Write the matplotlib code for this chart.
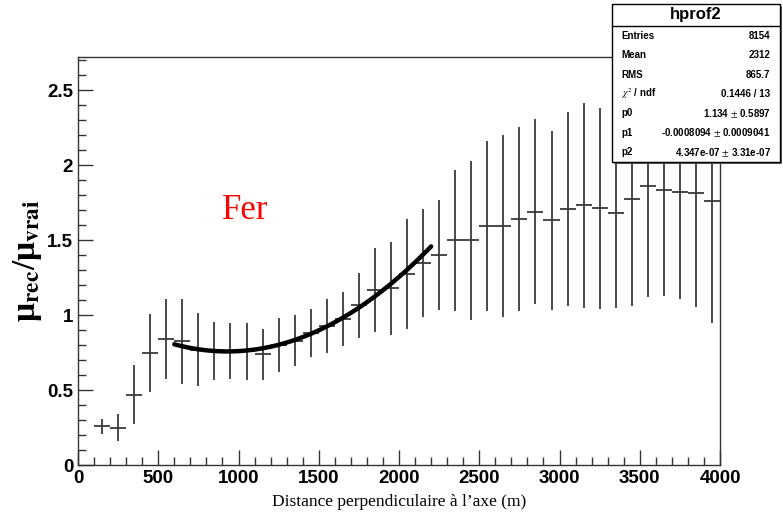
import numpy as np
import matplotlib
matplotlib.use("Agg")
import matplotlib.pyplot as plt
from matplotlib.patches import Rectangle
from matplotlib.ticker import MultipleLocator

# profile histogram hprof2 : bins of 100 m
x = np.arange(150, 4000, 100)
y = [0.26, 0.25, 0.47, 0.75, 0.84, 0.825, 0.77, 0.76, 0.76, 0.76,
     0.74, 0.80, 0.83, 0.88, 0.93, 0.975, 1.065, 1.17, 1.18, 1.275,
     1.35, 1.40, 1.50, 1.50, 1.593, 1.593, 1.638, 1.69, 1.631, 1.709,
     1.731, 1.711, 1.68, 1.773, 1.862, 1.833, 1.82, 1.811, 1.762]
yerr = [0.05, 0.09, 0.195, 0.26, 0.265, 0.285, 0.245, 0.195, 0.185, 0.19,
        0.17, 0.177, 0.17, 0.16, 0.18, 0.18, 0.217, 0.28, 0.31, 0.365,
        0.36, 0.367, 0.47, 0.53, 0.565, 0.605, 0.614, 0.617, 0.597, 0.647,
        0.685, 0.67, 0.635, 0.713, 0.744, 0.706, 0.711, 0.756, 0.813]

# fit pol2 from the stat box
p0, p1, p2 = 1.134, -0.0008094, 4.347e-07
fit_range = (600, 2200)

stats = [("Entries", "8154"), ("Mean", "2312"), ("RMS", "865.7"),
         (r"$\chi^2$ / ndf", "0.1446 / 13"), ("p0", "1.134 $\\pm$ 0.5897"),
         ("p1", "-0.0008094 $\\pm$ 0.0009041"),
         ("p2", "4.347e-07 $\\pm$ 3.31e-07")]

plt.rcParams['mathtext.fontset'] = 'stix'

fig = plt.figure(figsize=(7.83, 5.16), dpi=100)
ax = fig.add_axes([0.0996, 0.0988, 0.82, 0.7907])

ax.errorbar(x, y, xerr=50, yerr=yerr, fmt='none', ecolor='#3a3a3a',
            elinewidth=1.3, capsize=0)

xf = np.linspace(fit_range[0], fit_range[1], 200)
ax.plot(xf, p0 + p1 * xf + p2 * xf**2, color='black', lw=3.2,
        solid_capstyle='round')

ax.set_xlim(0, 4000)
ax.set_ylim(0, 2.72)
ax.xaxis.set_major_locator(MultipleLocator(500))
ax.xaxis.set_minor_locator(MultipleLocator(100))
ax.yaxis.set_major_locator(MultipleLocator(0.5))
ax.yaxis.set_minor_locator(MultipleLocator(0.1))
ax.tick_params(which='both', direction='in', top=False, right=False,
               width=1.0, color='#333333')
ax.tick_params(which='major', length=11)
ax.tick_params(which='minor', length=6)
ax.set_xticklabels([f"{v:g}" for v in ax.get_xticks()])
ax.set_yticklabels([f"{v:g}" for v in ax.get_yticks()])
for lab in ax.get_xticklabels() + ax.get_yticklabels():
    lab.set_fontfamily('Liberation Sans')
    lab.set_fontweight('bold')
    lab.set_fontsize(13.5)
for s in ax.spines.values():
    s.set_color('#333333')
    s.set_linewidth(1.0)

ax.set_xlabel("Distance perpendiculaire à l\u2019axe (m)",
              fontfamily='Liberation Serif', fontsize=12.5, labelpad=5)
ax.set_ylabel("\u03bc$_{\\mathbf{rec}}$/\u03bc$_{\\mathbf{vrai}}$",
              fontfamily='Liberation Serif', fontweight='bold',
              fontsize=24, labelpad=2)

ax.text(0.224, 0.625, "Fer", transform=ax.transAxes, color='red',
        fontfamily='Liberation Serif', fontsize=25, va='center')

# stat box
bx0, by0, bw, bh = 612 / 783, 1 - 162 / 516, 168 / 783, 158 / 516
fig.patches.append(Rectangle((bx0 + 0.003, by0 - 0.004), bw, bh,
                             transform=fig.transFigure, facecolor='#666666',
                             edgecolor='none', zorder=5))
fig.patches.append(Rectangle((bx0, by0), bw, bh, transform=fig.transFigure,
                             facecolor='white', edgecolor='black', lw=1.0,
                             zorder=6))
title_h = 22 / 516
fig.add_artist(plt.Line2D([bx0, bx0 + bw], [by0 + bh - title_h] * 2,
                          transform=fig.transFigure, color='black', lw=1.0,
                          zorder=7))
fig.text(bx0 + bw / 2, by0 + bh - title_h / 2, "hprof2", ha='center',
         va='center', fontfamily='Liberation Sans', fontweight='bold',
         fontsize=12, zorder=8)
row_h = (bh - title_h) / len(stats)
for i, (k, v) in enumerate(stats):
    yy = by0 + bh - title_h - (i + 0.5) * row_h
    fig.text(bx0 + 0.012, yy, k, ha='left', va='center',
             fontfamily='Liberation Sans', fontweight='bold', fontsize=7,
             zorder=8)
    fig.text(bx0 + bw - 0.012, yy, v, ha='right', va='center',
             fontfamily='Liberation Sans', fontweight='bold', fontsize=7,
             zorder=8)

fig.savefig("out.png", dpi=100)
